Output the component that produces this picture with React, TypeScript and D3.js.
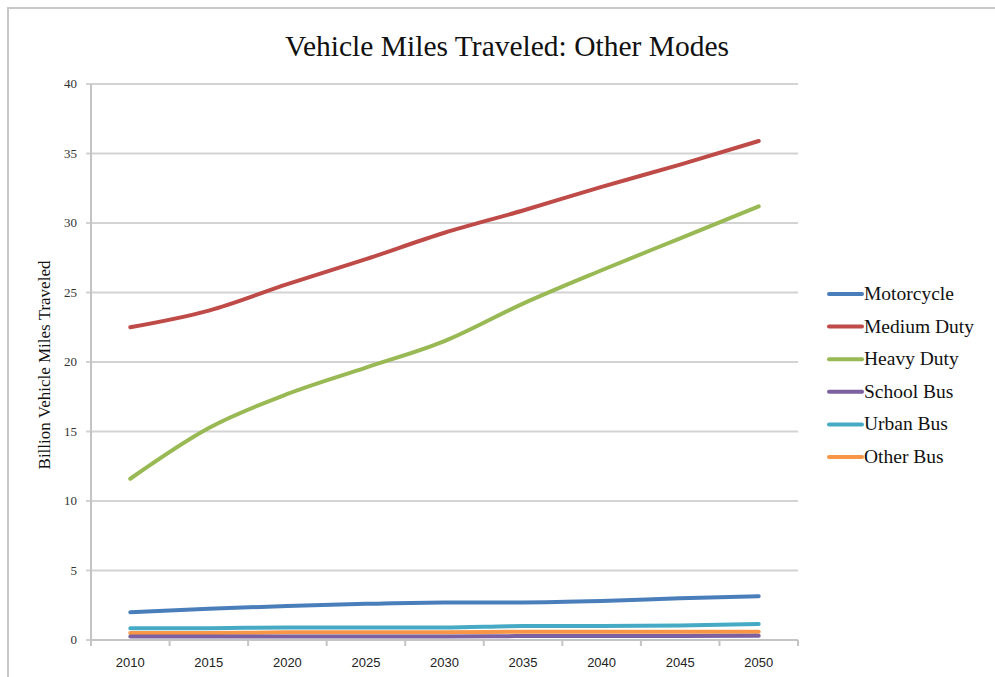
import React from "react";
import * as d3 from "d3";

const years = ["2010", "2015", "2020", "2025", "2030", "2035", "2040", "2045", "2050"];
const seriesNames = ["Motorcycle", "Medium Duty", "Heavy Duty", "School Bus", "Urban Bus", "Other Bus"];
const seriesColors = ["#4A7EBB", "#BE4B48", "#98B954", "#7D60A0", "#46AAC5", "#F79646"];
const motorcycle = [2.0, 2.25, 2.45, 2.6, 2.7, 2.7, 2.8, 3.0, 3.15];
const mediumDuty = [22.5, 23.7, 25.6, 27.4, 29.3, 30.9, 32.6, 34.2, 35.9];
const heavyDuty = [11.6, 15.25, 17.7, 19.6, 21.5, 24.2, 26.6, 28.9, 31.2];
const schoolBus = [0.25, 0.25, 0.25, 0.25, 0.25, 0.28, 0.28, 0.28, 0.3];
const urbanBus = [0.85, 0.85, 0.9, 0.9, 0.9, 1.0, 1.0, 1.05, 1.15];
const otherBus = [0.5, 0.5, 0.55, 0.55, 0.55, 0.6, 0.6, 0.6, 0.6];
const yTicks = [0, 5, 10, 15, 20, 25, 30, 35, 40];

const seriesValues = [motorcycle, mediumDuty, heavyDuty, schoolBus, urbanBus, otherBus];
const drawOrder = [1, 2, 0, 4, 5, 3];

export default function App() {
  const W = 995, H = 677;
  const left = 91, right = 798, top = 84, bottom = 640;
  const x = d3.scaleBand<string>().domain(years).range([left, right]);
  const y = d3.scaleLinear().domain([0, 40]).range([bottom, top]);
  const line = d3
    .line<number>()
    .x((_, i) => (x(years[i]) as number) + x.bandwidth() / 2)
    .y((d) => y(d))
    .curve(d3.curveMonotoneX);
  const serif = "'Liberation Serif', 'DejaVu Serif', serif";
  const sans = "'Liberation Sans', Arial, sans-serif";
  const tickPositions = years.map((yr) => x(yr) as number).concat([right]);

  return (
    <svg width={W} height={H} style={{ position: "absolute", left: 0, top: 0 }}>
      <rect x={0} y={0} width={W} height={H} fill="#fff" />
      {/* frame */}
      <line x1={7} x2={W} y1={8} y2={8} stroke="#c8c8c8" strokeWidth={2} />
      <line x1={8} x2={8} y1={7} y2={H} stroke="#c8c8c8" strokeWidth={2} />
      <text x={507} y={56} textAnchor="middle" fontFamily={serif} fontSize={29.5} fill="#111">
        Vehicle Miles Traveled: Other Modes
      </text>
      {/* gridlines */}
      {yTicks.map((t) => (
        <line key={"g" + t} x1={left - 5} x2={right} y1={y(t)} y2={y(t)} stroke="#d3d3d3" strokeWidth={2} />
      ))}
      {/* axes */}
      <line x1={left} x2={left} y1={top} y2={bottom} stroke="#c4c4c4" strokeWidth={2} />
      <line x1={left} x2={right} y1={bottom} y2={bottom} stroke="#c4c4c4" strokeWidth={2} />
      {tickPositions.map((p, i) => (
        <line key={"xt" + i} x1={p} x2={p} y1={bottom} y2={bottom + 6} stroke="#c4c4c4" strokeWidth={2} />
      ))}
      {yTicks.map((t) => (
        <text key={"yl" + t} x={77} y={y(t) + 4} textAnchor="end" fontFamily={serif} fontSize={13} fill="#333">
          {t}
        </text>
      ))}
      {years.map((yr) => (
        <text
          key={"xl" + yr}
          x={(x(yr) as number) + x.bandwidth() / 2}
          y={667}
          textAnchor="middle"
          fontFamily={sans}
          fontSize={13}
          fill="#222"
        >
          {yr}
        </text>
      ))}
      <text
        transform={`translate(50,365) rotate(-90)`}
        textAnchor="middle"
        fontFamily={serif}
        fontSize={17}
        fill="#111"
      >
        Billion Vehicle Miles Traveled
      </text>
      {/* series */}
      {drawOrder.map((si) => (
        <path
          key={"s" + si}
          d={line(seriesValues[si]) || ""}
          fill="none"
          stroke={seriesColors[si]}
          strokeWidth={4}
          strokeLinecap="round"
          strokeLinejoin="round"
        />
      ))}
      {/* legend */}
      {seriesNames.map((name, i) => {
        const ly = 294 + i * 32.6;
        return (
          <g key={"lg" + i}>
            <line x1={829} x2={862} y1={ly} y2={ly} stroke={seriesColors[i]} strokeWidth={4} strokeLinecap="round" />
            <text x={864} y={ly + 6} fontFamily={serif} fontSize={19.5} fill="#111">
              {name}
            </text>
          </g>
        );
      })}
    </svg>
  );
}
